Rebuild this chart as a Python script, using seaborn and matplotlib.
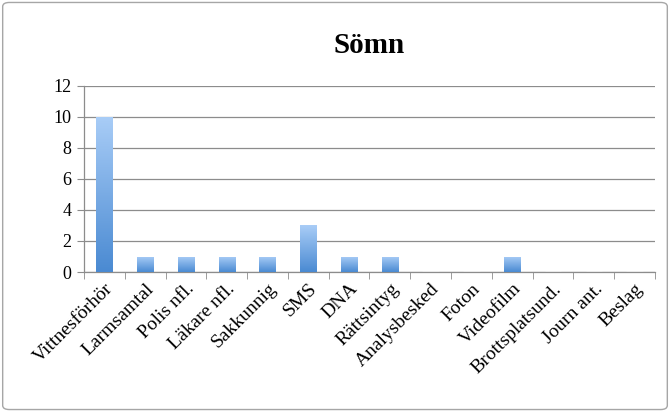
import numpy as np
import pandas as pd
import seaborn as sb
import matplotlib
matplotlib.use("Agg")
import matplotlib.pyplot as plt
import matplotlib.ticker as ticker
from matplotlib.colors import LinearSegmentedColormap
from matplotlib.patches import FancyBboxPatch

# Data
categories = ["Vittnesförhör", "Larmsamtal", "Polis nfl.", "Läkare nfl.", "Sakkunnig",
              "SMS", "DNA", "Rättsintyg", "Analysbesked", "Foton", "Videofilm",
              "Brottsplatsund.", "Journ ant.", "Beslag"]
values = [10, 1, 1, 1, 1, 3, 1, 1, 0, 0, 1, 0, 0, 0]
title = "Sömn"
yticks = [0, 2, 4, 6, 8, 10, 12]

sb.set_style("white")
plt.rcParams['font.family'] = ['Liberation Serif', 'DejaVu Serif']
plt.rcParams['text.color'] = 'black'
plt.rcParams['xtick.color'] = 'black'
plt.rcParams['ytick.color'] = 'black'

fig = plt.figure(figsize=(6.7, 4.12), dpi=100)
ax = fig.add_axes([0.1254, 0.3398, 0.852, 0.4515])

df = pd.DataFrame({"cat": categories, "val": values})
sb.barplot(data=df, x="cat", y="val", color="#7fb2ea", width=0.4, ax=ax, zorder=3)

# gradient fill per bar
cmap = LinearSegmentedColormap.from_list("grad", ["#4a8ad2", "#a9cdf7"])
grad = np.linspace(0, 1, 256).reshape(-1, 1)
for p in ax.patches:
    x0, y0 = p.get_x(), p.get_y()
    w, h = p.get_width(), p.get_height()
    if h <= 0:
        continue
    im = ax.imshow(grad, cmap=cmap, aspect="auto", origin="lower",
                   extent=[x0, x0 + w, y0, y0 + h], zorder=4)
    im.set_clip_path(p)
    p.set_edgecolor("none")

ax.set_xlim(-0.5, len(categories) - 0.5)
ax.set_ylim(0, 12)
ax.set_yticks(yticks)
ax.yaxis.grid(True, color="#8c8c8c", lw=0.9, zorder=0)
ax.set_axisbelow(True)

ax.set_xlabel("")
ax.set_ylabel("")
ax.set_title(title, fontsize=21, fontweight="bold", pad=24, color="black")

ax.set_xticks(range(len(categories)))
ax.set_xticklabels(categories, rotation=45, ha="right", rotation_mode="anchor", fontsize=14)
ax.xaxis.set_minor_locator(ticker.FixedLocator(np.arange(-0.5, len(categories), 1)))
ax.tick_params(axis="x", which="major", length=0, pad=6)
ax.tick_params(axis="x", which="minor", length=5, color="#8c8c8c", direction="out", bottom=True)
ax.tick_params(axis="y", which="major", length=5, color="#8c8c8c", direction="out", left=True,
               labelsize=13, pad=4)

for s in ["top", "right"]:
    ax.spines[s].set_visible(False)
for s in ["left", "bottom"]:
    ax.spines[s].set_color("#8c8c8c")
    ax.spines[s].set_linewidth(0.9)

border = FancyBboxPatch((0.004, 0.006), 0.992, 0.988, boxstyle="round,pad=0,rounding_size=0.01",
                        transform=fig.transFigure, fill=False, edgecolor="#a6a6a6", lw=1)
fig.patches.append(border)

plt.savefig("out.png", dpi=100)
